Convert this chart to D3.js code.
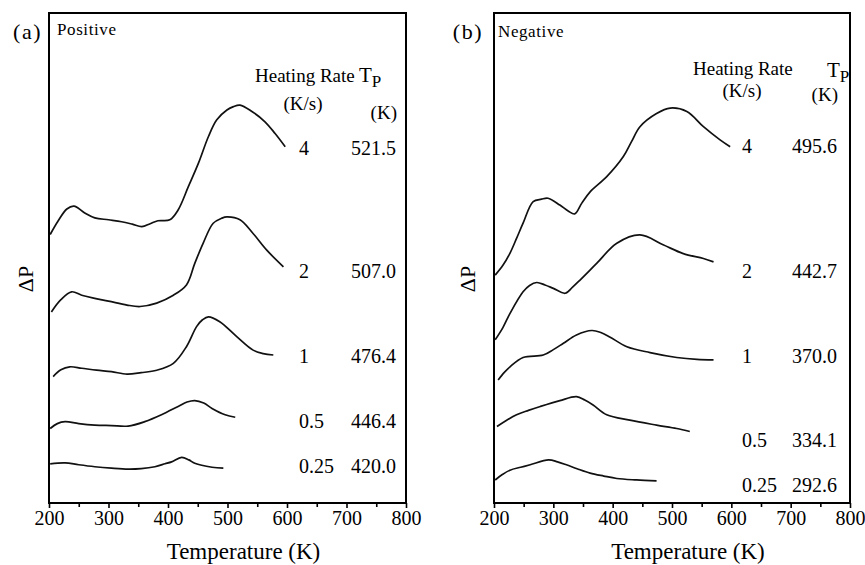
<!DOCTYPE html>
<html>
<head>
<meta charset="utf-8">
<script src="https://cdn.jsdelivr.net/npm/d3@7"></script>
<style>
  body { margin: 0; background: #fff; }
  svg text { font-family: "Liberation Serif", "Times New Roman", serif; fill: #000; }
</style>
</head>
<body>
<div id="chart"></div>
<script>
// values: T in K, dP in arbitrary units (traces are already offset)
const tempTicks = [200, 300, 400, 500, 600, 700, 800];
const tempMinorTicks = [250, 350, 450, 550, 650, 750];
const heatingRates = ["4", "2", "1", "0.5", "0.25"];
const posPeakTemps = ["521.5", "507.0", "476.4", "446.4", "420.0"];
const negPeakTemps = ["495.6", "442.7", "370.0", "334.1", "292.6"];

// (a) positive
const pos4 = [[202, 54.8], [215, 57.5], [230, 60.0], [242, 60.6], [260, 59.2], [277, 58.2], [300, 57.8], [322, 57.4], [340, 56.9], [356, 56.4], [370, 57.0], [383, 57.6], [403, 57.8], [417, 59.8], [434, 64.5], [451, 69.3], [468, 74.8], [482, 78.2], [499, 80.2], [510, 80.9], [521, 81.2], [541, 79.9], [563, 77.8], [580, 75.4], [597, 72.7]];
const pos2 = [[204, 39.0], [220, 41.5], [238, 43.1], [255, 42.4], [275, 41.8], [300, 41.2], [331, 40.4], [353, 40.1], [381, 40.8], [409, 42.4], [431, 44.5], [445, 48.9], [459, 53.0], [476, 57.1], [490, 58.1], [499, 58.4], [521, 57.8], [543, 55.0], [566, 51.6], [594, 48.2]];
const pos1 = [[207, 25.8], [220, 27.2], [235, 27.8], [255, 27.5], [280, 27.1], [305, 26.8], [331, 26.3], [355, 26.6], [381, 27.1], [409, 28.5], [431, 31.9], [448, 36.0], [458, 37.4], [468, 38.0], [487, 37.0], [516, 33.9], [543, 31.2], [560, 30.5], [577, 30.2]];
const pos05 = [[202, 15.2], [214, 16.2], [227, 16.6], [250, 16.2], [277, 15.9], [305, 15.8], [333, 15.7], [361, 16.6], [389, 18.0], [417, 19.7], [432, 20.6], [445, 20.9], [460, 20.4], [474, 19.3], [496, 18.0], [513, 17.5]];
const pos025 = [[202, 8.0], [227, 8.2], [250, 7.8], [277, 7.4], [305, 7.1], [333, 6.9], [355, 7.0], [378, 7.4], [395, 8.0], [406, 8.4], [423, 9.3], [435, 8.8], [445, 8.1], [474, 7.3], [493, 7.1]];

// (b) negative
const neg4 = [[202, 46.5], [215, 48.5], [227, 51.0], [238, 54.0], [249, 57.1], [266, 61.5], [280, 62.0], [291, 62.2], [311, 60.8], [325, 59.6], [336, 59.0], [348, 61.2], [362, 63.5], [390, 66.6], [418, 70.7], [432, 73.8], [446, 76.8], [474, 79.5], [497, 80.6], [525, 79.9], [553, 76.8], [581, 74.1], [598, 72.7]];
const neg2 = [[202, 33.3], [215, 35.8], [227, 38.7], [249, 43.1], [260, 44.4], [272, 45.0], [286, 44.5], [300, 43.8], [320, 42.8], [332, 44.0], [345, 45.5], [373, 48.9], [407, 53.0], [446, 54.7], [485, 52.7], [519, 50.9], [553, 49.9], [570, 49.2]];
const neg1 = [[207, 25.1], [217, 26.6], [227, 27.8], [249, 29.7], [283, 30.2], [300, 31.3], [317, 32.6], [339, 34.3], [365, 35.2], [380, 34.8], [395, 33.9], [424, 31.9], [463, 30.7], [508, 29.7], [542, 29.3], [570, 29.2]];
const neg05 = [[205, 15.6], [220, 16.8], [238, 18.0], [258, 18.9], [278, 19.7], [311, 20.9], [339, 21.7], [353, 21.0], [367, 20.0], [390, 18.0], [429, 16.9], [474, 15.9], [508, 15.2], [530, 14.6]];
const neg025 = [[202, 4.7], [214, 5.8], [227, 6.7], [245, 7.3], [261, 7.8], [292, 8.8], [307, 8.4], [322, 7.8], [340, 7.0], [362, 6.1], [385, 5.5], [407, 5.0], [440, 4.7], [474, 4.5]];

const posTraces = [pos4, pos2, pos1, pos05, pos025];
const negTraces = [neg4, neg2, neg1, neg05, neg025];

const svg = d3.select("#chart").append("svg")
  .attr("width", 865)
  .attr("height", 565);

class TdsPanel {
  constructor(cfg) {
    this.cfg = cfg;
    this.g = svg.append("g");
    this.x = d3.scaleLinear().domain([200, 800]).range([cfg.left, cfg.right]);
    this.y = d3.scaleLinear().domain([0, 100]).range([cfg.bottom, cfg.top]);
    this.drawAxis();
    this.drawTraces();
    this.drawFrame();
    this.drawLabels();
  }

  drawAxis() {
    const c = this.cfg;
    const major = this.g.append("g")
      .attr("transform", `translate(0,${c.bottom})`)
      .call(d3.axisBottom(this.x).tickValues(tempTicks).tickSize(5).tickPadding(3));
    major.select(".domain").remove();
    major.selectAll(".tick line").attr("stroke", "#000").attr("stroke-width", 1.6);
    major.selectAll(".tick text")
      .attr("font-family", "Liberation Serif")
      .style("font-size", "20px");

    const minor = this.g.append("g")
      .attr("transform", `translate(0,${c.bottom})`)
      .call(d3.axisBottom(this.x).tickValues(tempMinorTicks).tickSize(4).tickFormat(""));
    minor.select(".domain").remove();
    minor.selectAll(".tick line").attr("stroke", "#000").attr("stroke-width", 1.6);

    this.g.append("text")
      .attr("x", (c.left + c.right) / 2 + 16)
      .attr("y", 559)
      .attr("text-anchor", "middle")
      .style("font-size", "23px")
      .text("Temperature (K)");

    this.g.append("text")
      .attr("transform", `translate(${c.yLabelX},${(c.top + c.bottom) / 2 + 21}) rotate(-90)`)
      .attr("text-anchor", "middle")
      .style("font-size", "22px")
      .text("ΔP");
  }

  drawFrame() {
    const c = this.cfg;
    this.g.append("rect")
      .attr("x", c.left)
      .attr("y", c.top)
      .attr("width", c.right - c.left)
      .attr("height", c.bottom - c.top)
      .attr("fill", "none")
      .attr("stroke", "#000")
      .attr("stroke-width", 2);
  }

  drawTraces() {
    const line = d3.line()
      .x((d) => this.x(d[0]))
      .y((d) => this.y(d[1]))
      .curve(d3.curveCatmullRom.alpha(0.5));

    this.g.selectAll("path.trace")
      .data(this.cfg.traces)
      .enter()
      .append("path")
      .attr("class", "trace")
      .attr("d", line)
      .attr("fill", "none")
      .attr("stroke", "#111")
      .attr("stroke-width", 1.7)
      .attr("stroke-linejoin", "round");
  }

  drawLabels() {
    const c = this.cfg;
    const R = c.right;

    this.g.append("text")
      .attr("x", c.tagX)
      .attr("y", 39)
      .attr("text-anchor", "end")
      .style("font-size", "22px")
      .style("letter-spacing", "1.5px")
      .text(c.tag);

    this.g.append("text")
      .attr("x", c.left + c.titleDx)
      .attr("y", c.titleY)
      .style("font-size", "17px")
      .style("letter-spacing", "0.6px")
      .text(c.title);

    // column headers
    this.g.append("text")
      .attr("x", R - c.head.rateDx)
      .attr("y", c.head.rateY)
      .style("font-size", "19px")
      .text("Heating Rate");
    this.g.append("text")
      .attr("x", R - c.head.unitDx)
      .attr("y", c.head.unitY)
      .attr("text-anchor", "middle")
      .style("font-size", "19px")
      .text("(K/s)");

    const tp = this.g.append("text")
      .attr("x", R - c.head.tpDx)
      .attr("y", c.head.tpY)
      .style("font-size", "21px");
    tp.append("tspan").text("T");
    tp.append("tspan").attr("dy", 5).style("font-size", "17px").text("P");

    this.g.append("text")
      .attr("x", R - c.head.kDx)
      .attr("y", c.head.kY)
      .attr("text-anchor", "end")
      .style("font-size", "19px")
      .text("(K)");

    this.g.selectAll("text.rate")
      .data(heatingRates)
      .enter()
      .append("text")
      .attr("class", "rate")
      .attr("x", R - c.rateDx)
      .attr("y", (d, i) => c.rowY[i])
      .style("font-size", "20px")
      .text((d) => d);

    this.g.selectAll("text.tp")
      .data(c.peaks)
      .enter()
      .append("text")
      .attr("class", "tp")
      .attr("x", R - c.tpDx)
      .attr("y", (d, i) => c.rowY[i])
      .attr("text-anchor", "end")
      .style("font-size", "20px")
      .text((d) => d);
  }
}

new TdsPanel({
  left: 49, right: 406, top: 13, bottom: 503,
  tag: "(a)", tagX: 42,
  title: "Positive", titleDx: 8, titleY: 35,
  yLabelX: 33,
  traces: posTraces,
  peaks: posPeakTemps,
  head: { rateDx: 151, rateY: 82, unitDx: 103, unitY: 110, tpDx: 47, tpY: 82, kDx: 9, kY: 119 },
  rateDx: 107, tpDx: 10,
  rowY: [155, 278, 363, 428, 473],
});

new TdsPanel({
  left: 494, right: 850, top: 13, bottom: 503,
  tag: "(b)", tagX: 483,
  title: "Negative", titleDx: 4, titleY: 37,
  yLabelX: 475,
  traces: negTraces,
  peaks: negPeakTemps,
  head: { rateDx: 157, rateY: 75, unitDx: 108, unitY: 97, tpDx: 23, tpY: 77, kDx: 12, kY: 101 },
  rateDx: 108, tpDx: 13,
  rowY: [153, 278, 363, 447, 492],
});
</script>
</body>
</html>
